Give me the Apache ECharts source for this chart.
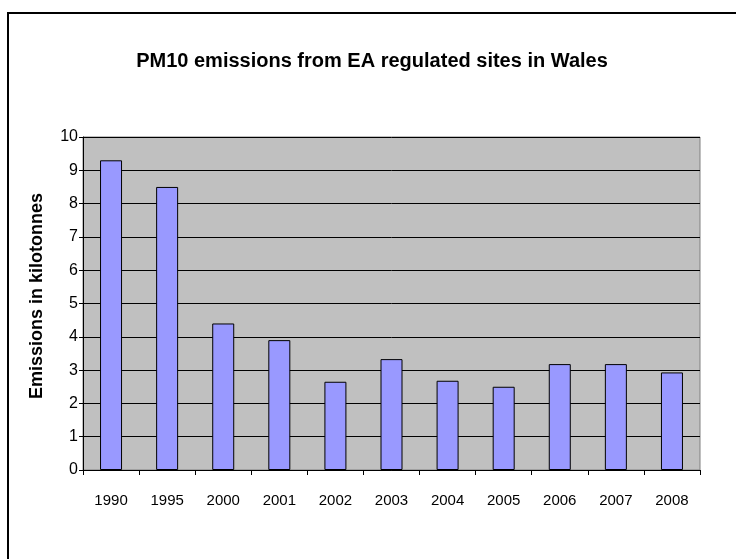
<!DOCTYPE html>
<html>
<head>
<meta charset="utf-8">
<script src="https://cdn.jsdelivr.net/npm/echarts@6/dist/echarts.min.js"></script>
<style>
html,body{margin:0;padding:0;background:#fff;}
#chart{width:736px;height:559px;}
</style>
</head>
<body>
<div id="chart"></div>
<script>
const years = ['1990','1995','2000','2001','2002','2003','2004','2005','2006','2007','2008'];
const emissions = [9.3, 8.5, 4.4, 3.9, 2.65, 3.33, 2.68, 2.5, 3.18, 3.18, 2.93];
const yTicks = { min: 0, max: 10, interval: 1 };
const chartTitle = 'PM10 emissions from EA regulated sites in Wales';
const yName = 'Emissions in kilotonnes';

const chart = echarts.init(document.getElementById('chart'), null, {renderer: 'canvas'});
const font = '"Liberation Sans", Arial, sans-serif';
chart.setOption({
  animation: false,
  backgroundColor: '#ffffff',
  title: {
    text: chartTitle,
    left: 367,
    top: 46,
    textAlign: 'center',
    textStyle: {fontFamily: font, fontSize: 20, fontWeight: 'bold', color: '#000'}
  },
  graphic: [{
    type: 'rect',
    shape: {x: 8, y: 13, width: 800, height: 700},
    style: {fill: 'none', stroke: '#000', lineWidth: 2},
    silent: true
  }, {
    type: 'text',
    x: 37, y: 296,
    rotation: Math.PI / 2,
    style: {
      text: yName,
      fontFamily: font, fontSize: 18, fontWeight: 'bold', fill: '#000',
      align: 'center', verticalAlign: 'middle'
    },
    silent: true
  }],
  grid: {
    left: 83, right: 36, top: 137, bottom: 89,
    show: true,
    backgroundColor: '#C0C0C0',
    borderColor: '#808080',
    borderWidth: 1
  },
  xAxis: {
    type: 'category',
    data: years,
    axisLine: {show: true, lineStyle: {color: '#000', width: 1}},
    axisTick: {show: true, inside: false, length: 5, alignWithLabel: false, lineStyle: {color: '#000'}},
    axisLabel: {fontFamily: font, fontSize: 15, color: '#000', margin: 23},
    splitLine: {show: false}
  },
  yAxis: {
    type: 'value',
    min: yTicks.min, max: yTicks.max, interval: yTicks.interval,
    axisLine: {show: true, lineStyle: {color: '#000', width: 1}},
    axisTick: {show: true, inside: false, length: 4, lineStyle: {color: '#000'}},
    axisLabel: {fontFamily: font, fontSize: 16, color: '#000', margin: 5},
    splitLine: {show: true, lineStyle: {color: '#000', width: 1}}
  },
  series: [{
    type: 'bar',
    data: emissions,
    barWidth: 22,
    itemStyle: {color: '#9999FF', borderColor: '#000', borderWidth: 1}
  }]
});
</script>
</body>
</html>
